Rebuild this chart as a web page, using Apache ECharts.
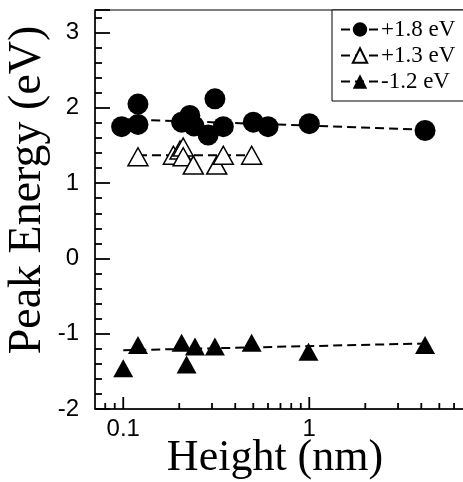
<!DOCTYPE html>
<html><head><meta charset="utf-8">
<script src="https://cdn.jsdelivr.net/npm/echarts@6/dist/echarts.min.js"></script>
<style>html,body{margin:0;padding:0;background:#fff}#c{width:463px;height:482px}</style>
</head><body><div id="c"></div>
<script>
// ---- data ----
const seriesNames = ['+1.8 eV', '+1.3 eV', '-1.2 eV'];
const heightA = [0.098, 0.12, 0.12, 0.206, 0.228, 0.24, 0.311, 0.286, 0.345, 0.5, 0.6, 1.0, 4.19];
const energyA = [1.75, 2.05, 1.78, 1.81, 1.90, 1.76, 2.12, 1.64, 1.75, 1.81, 1.75, 1.79, 1.70];
const heightB = [0.12, 0.186, 0.202, 0.21, 0.21, 0.238, 0.318, 0.345, 0.49];
const energyB = [1.35, 1.37, 1.44, 1.48, 1.35, 1.24, 1.24, 1.37, 1.37];
const heightC = [0.1, 0.12, 0.206, 0.243, 0.219, 0.311, 0.49, 0.99, 4.19];
const energyC = [-1.46, -1.15, -1.12, -1.17, -1.41, -1.17, -1.12, -1.24, -1.15];
// dashed fit lines (end points)
const fitXA = [0.1, 4.19];  const fitYA = [1.85, 1.71];
const fitXB = [0.12, 0.49]; const fitYB = [1.37, 1.37];
const fitXC = [0.1, 4.19];  const fitYC = [-1.22, -1.13];
// axis ticks of the log axis
const xMajorTicks = [0.1, 1];
const xMinorTicks = [0.08, 0.09, 0.2, 0.3, 0.4, 0.5, 0.6, 0.7, 0.8, 0.9, 2, 3, 4, 5, 6, 7];
const xAxisTitle = 'Height (nm)';
const yAxisTitle = 'Peak Energy (eV)';

const pairs = (xs, ys) => xs.map((x, i) => [x, ys[i]]);
const chart = echarts.init(document.getElementById('c'), null, {renderer: 'canvas'});
const dash = [9, 5];
const styles = [
  {symbol: 'circle', size: 21, item: {color: '#000', opacity: 1}},
  {symbol: 'triangle', size: [20, 18], item: {color: '#fff', borderColor: '#000', borderWidth: 1.5, opacity: 1}},
  {symbol: 'triangle', size: [20, 18], item: {color: '#000', opacity: 1}}
];
const fits = [[fitXA, fitYA], [fitXB, fitYB], [fitXC, fitYC]];
const pts = [[heightA, energyA], [heightB, energyB], [heightC, energyC]];
const series = [];
seriesNames.forEach((name, i) => {
  series.push({name, type: 'line', data: pairs(fits[i][0], fits[i][1]),
    symbol: styles[i].symbol, showSymbol: false, z: 2,
    lineStyle: {color: '#000', width: 2, type: dash},
    itemStyle: styles[i].item, animation: false, silent: true});
});
seriesNames.forEach((name, i) => {
  series.push({name, type: 'scatter', data: pairs(pts[i][0], pts[i][1]),
    symbol: styles[i].symbol, symbolSize: styles[i].size, z: 3,
    itemStyle: styles[i].item, animation: false});
});
// log-axis ticks (major + minor) drawn through the axis scale
series.push({
  type: 'custom', z: 4, silent: true, animation: false, clip: false,
  data: xMajorTicks.map(v => [v, -2, 12]).concat(xMinorTicks.map(v => [v, -2, 6])),
  renderItem: (params, api) => {
    const p = api.coord([api.value(0), api.value(1)]);
    const len = api.value(2);
    return {type: 'line', shape: {x1: p[0], y1: p[1], x2: p[0], y2: p[1] - len},
            style: {stroke: '#000', lineWidth: 1.8}};
  }
});
chart.setOption({
  backgroundColor: '#fff', animation: false,
  grid: {left: 95, top: 10, width: 373, height: 399, outerBoundsMode: 'none', containLabel: false,
         show: true, borderColor: '#000', borderWidth: 1, backgroundColor: 'transparent'},
  xAxis: {type: 'log', logBase: 10, min: 0.0705, max: 7.13,
    axisLine: {show: true, onZero: false, lineStyle: {color: '#000', width: 1.5}},
    axisTick: {show: false}, splitLine: {show: false},
    axisLabel: {color: '#000', fontSize: 24, fontFamily: 'Liberation Sans', margin: 8,
      formatter: v => { const l = Math.log10(v); return Math.abs(l - Math.round(l)) < 1e-6 ? String(+v.toPrecision(3)) : ''; }}},
  yAxis: {type: 'value', min: -2, max: 3.3, interval: 1,
    axisLine: {show: true, lineStyle: {color: '#000', width: 1.5}},
    axisTick: {show: true, inside: true, length: 15, lineStyle: {color: '#000', width: 1.8}},
    minorTick: {show: true, splitNumber: 5, length: 7, lineStyle: {color: '#000', width: 1.8}},
    splitLine: {show: false}, minorSplitLine: {show: false},
    axisLabel: {color: '#000', fontSize: 24, fontFamily: 'Liberation Sans', margin: 16,
      formatter: v => Math.abs(v - Math.round(v)) < 1e-6 ? String(Math.round(v)) : ''}},
  legend: {orient: 'vertical', left: 332, top: 10, data: seriesNames,
    backgroundColor: '#fff', borderColor: '#000', borderWidth: 1, borderRadius: 0,
    padding: [8, 20, 8, 8], itemGap: 3, itemWidth: 38, itemHeight: 18,
    textStyle: {color: '#000', fontSize: 23, fontFamily: 'Liberation Serif', lineHeight: 20, padding: [0, 0, 0, -3]},
    selectedMode: false},
  graphic: [
    {type: 'text', x: 28, y: 190, rotation: Math.PI / 2,
     style: {text: yAxisTitle, fill: '#000', font: '46px "Liberation Serif"', textAlign: 'center', textVerticalAlign: 'middle'}},
    {type: 'text', x: 275, y: 458,
     style: {text: xAxisTitle, fill: '#000', font: '44px "Liberation Serif"', textAlign: 'center', textVerticalAlign: 'middle'}}
  ],
  series
});
</script></body></html>
